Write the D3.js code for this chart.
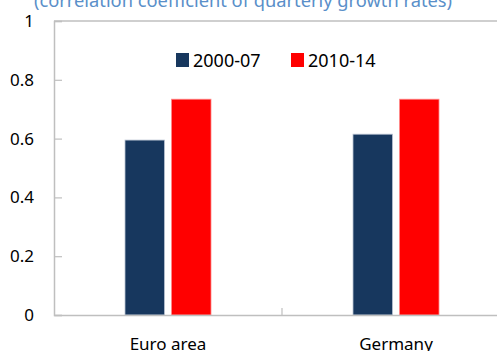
<!DOCTYPE html>
<html>
<head>
<meta charset="utf-8">
<script src="https://cdn.jsdelivr.net/npm/d3@7"></script>
<style>
  body { margin: 0; background: #fff; }
  svg { display: block; font-family: "Noto Sans", "Open Sans", sans-serif; }
</style>
</head>
<body>
<svg id="chart" width="497" height="351"></svg>
<script>
const categories = ["Euro area", "Germany"];
const series = ["2000-07", "2010-14"];
const values2000 = [0.595, 0.615];
const values2010 = [0.734, 0.734];
const yTicks = [0, 0.2, 0.4, 0.6, 0.8, 1];
const colors = ["#17375e", "#ff0000"];

const svg = d3.select("#chart");
const margin = { left: 54, top: 21, bottom: 315, right: 510 };

const x0 = d3.scaleBand().domain(categories).range([margin.left, margin.right]).padding(0);
const x1 = d3.scaleBand().domain(series).range([-43, 43]).paddingInner(0.15);
const y = d3.scaleLinear().domain([0, 1]).range([margin.bottom, margin.top]);

const rows = categories.map((c, i) => ({ cat: c, vals: [values2000[i], values2010[i]] }));

// title (mostly cut off at the top)
svg.append("text")
    .attr("x", 243)
    .attr("y", 7)
    .attr("text-anchor", "middle")
    .attr("fill", "#5a8fc9")
    .attr("font-size", 18.3)
    .text("(correlation coefficient of quarterly growth rates)");

// frame top
svg.append("line")
    .attr("x1", margin.left).attr("x2", margin.right)
    .attr("y1", margin.top).attr("y2", margin.top)
    .attr("stroke", "#bfbfbf").attr("stroke-width", 1.5);

// bars
const groups = svg.append("g")
    .selectAll("g")
    .data(rows)
    .join("g")
    .attr("transform", d => `translate(${x0(d.cat) + x0.bandwidth() / 2},0)`);

groups.selectAll("rect")
    .data(d => d.vals.map((v, i) => ({ s: series[i], v, i })))
    .join("rect")
    .attr("x", d => x1(d.s))
    .attr("width", x1.bandwidth())
    .attr("y", d => y(d.v))
    .attr("height", d => y(0) - y(d.v))
    .attr("fill", d => colors[d.i])
    .attr("stroke", d => d.i === 0 ? "#b9c3d2" : "#ff8a8a")
    .attr("stroke-width", 0.8);

// y axis
const yAxis = svg.append("g")
    .attr("transform", `translate(${margin.left},0)`)
    .call(d3.axisLeft(y).tickValues(yTicks).tickFormat(d3.format("")).tickSize(-8).tickPadding(20));
yAxis.select(".domain").attr("stroke", "#bfbfbf").attr("stroke-width", 1.5);
yAxis.selectAll(".tick line").attr("stroke", "#bfbfbf").attr("stroke-width", 1.2);
yAxis.selectAll(".tick text").attr("font-size", 17).attr("fill", "#000").attr("font-family", "Noto Sans");

// x axis
const xAxis = svg.append("g")
    .attr("transform", `translate(0,${margin.bottom})`)
    .call(d3.axisBottom(x0).tickSize(0).tickPadding(23));
xAxis.select(".domain").attr("stroke", "#bfbfbf").attr("stroke-width", 1.5);
xAxis.selectAll(".tick text").attr("font-size", 17).attr("fill", "#000").attr("font-family", "Noto Sans");

// category separators
svg.append("g")
    .selectAll("line")
    .data(categories.slice(1))
    .join("line")
    .attr("x1", d => x0(d)).attr("x2", d => x0(d))
    .attr("y1", margin.bottom - 7).attr("y2", margin.bottom)
    .attr("stroke", "#bfbfbf").attr("stroke-width", 1.2);

// legend
const legendX = [176, 291];
const legend = svg.append("g")
    .selectAll("g")
    .data(series)
    .join("g")
    .attr("transform", (d, i) => `translate(${legendX[i]},53)`);
legend.append("rect")
    .attr("width", 13).attr("height", 14)
    .attr("fill", (d, i) => colors[i]);
legend.append("text")
    .attr("x", 17).attr("y", 13.5)
    .attr("font-size", 18)
    .attr("fill", "#000")
    .text(d => d);
</script>
</body>
</html>
